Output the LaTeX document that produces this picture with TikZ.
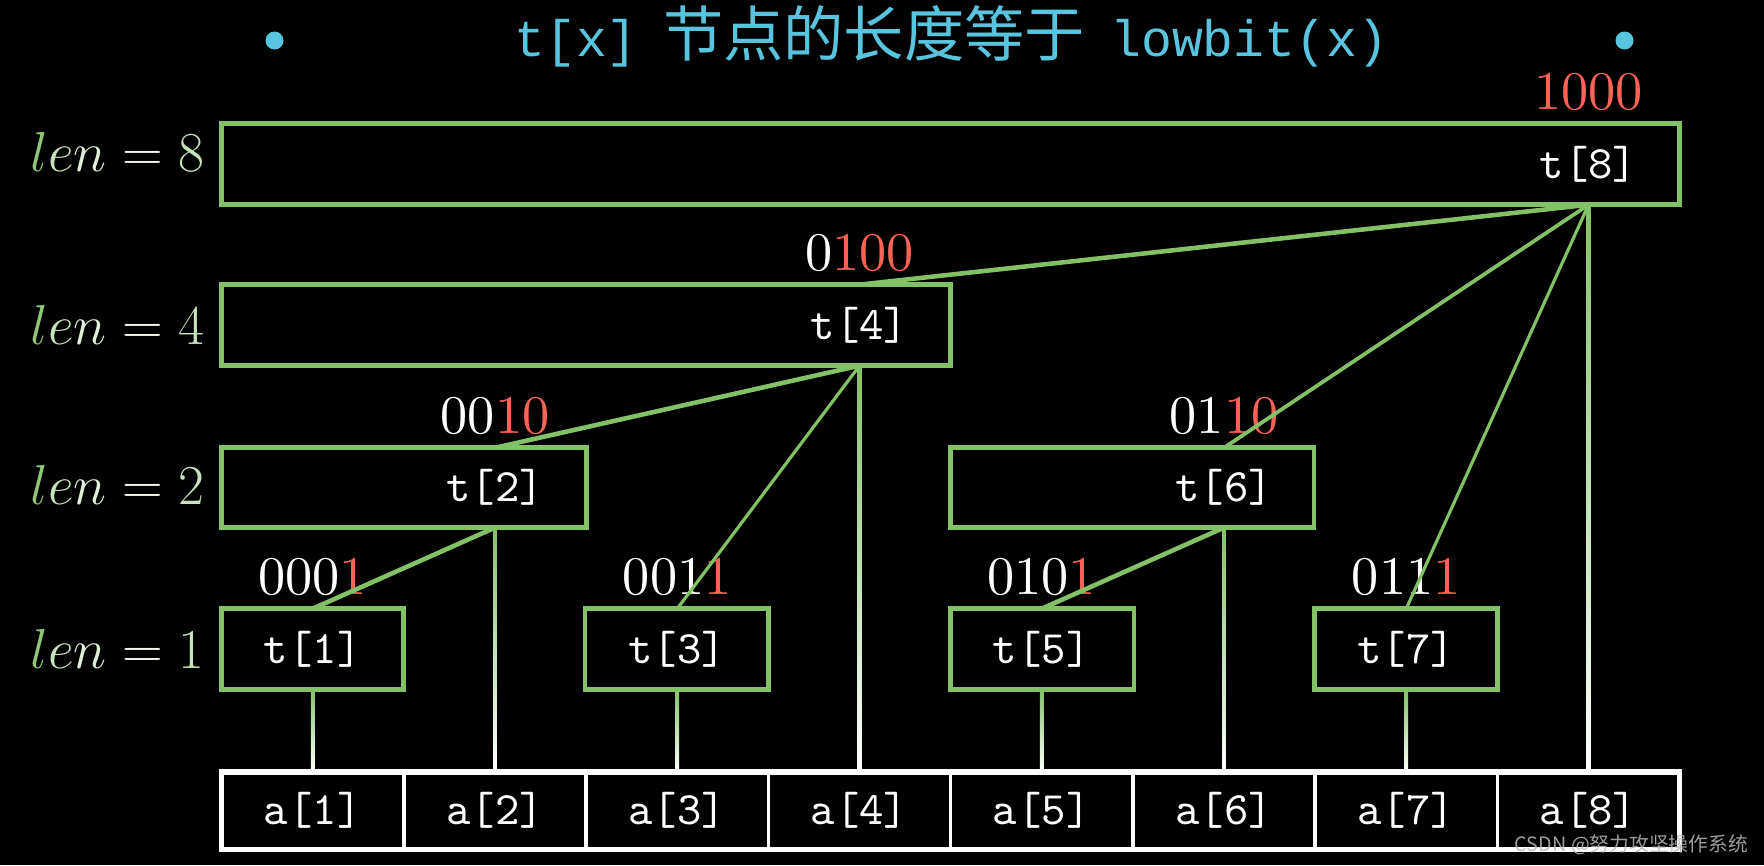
\RequirePackage{fix-cm}
\documentclass[tikz,border=0pt]{standalone}
\usepackage{fontspec}
\newfontfamily\cjk{Noto Sans CJK SC}
\newfontfamily\cour{Liberation Mono}
\newfontfamily\lmten{lmroman10-regular.otf}
\newfontfamily\lmtt{lmmono10-regular.otf}
\usetikzlibrary{calc}
\definecolor{G}{HTML}{83C167}
\definecolor{R}{HTML}{FC6255}
\definecolor{B}{HTML}{58C4DD}
\begin{document}
\begin{tikzpicture}[x=0.02cm,y=-0.02cm,
  tbox/.style={draw=G,line width=2.5pt,inner sep=0pt,outer sep=0pt},
  tlab/.style={text=white,font=\lmtt\fontsize{23.5}{28}\selectfont,inner sep=0pt},
  abox/.style={draw=white,line width=1.8pt,inner sep=0pt,outer sep=0pt,
    minimum width=3.24cm,minimum height=1.38cm,text=white,
    font=\lmtt\fontsize{23.5}{28}\selectfont},
  bin/.style={anchor=base,text=white,inner sep=0pt,font=\lmten\fontsize{27.5}{32}\selectfont},
  lenlab/.style={anchor=base east,inner sep=0pt,font=\fontsize{28.5}{32}\selectfont},
  thickc/.style={G,line width=2.3pt},
  midc/.style={G,line width=1.9pt},
  thinc/.style={G,line width=1.6pt},
  dot/.style={circle,fill=B,inner sep=0pt,minimum size=0.32cm}]
\fill[black] (0,0) rectangle (1568,769);
\useasboundingbox (0,0) rectangle (1568,769);

% title
\node[dot] (d1) at (244,36) {};
\node[dot] (d2) at (1444,36) {};
\node[anchor=base,text=B,inner sep=0pt] (title) at (845.5,50)
  {{\cour\fontsize{26}{30}\selectfont t[x]}\hspace{0.45cm}{\cjk\fontsize{30.5}{34}\selectfont 节点的长度等于}\hspace{0.45cm}{\cour\fontsize{26}{30}\selectfont lowbit(x)}};

% len labels
\newcommand\lenrow[1]{$\textcolor{G!90!white}{l}\textcolor{G!45!white}{e}\textcolor{G!25!white}{n}\mathrel{\textcolor{G!12!white}{=}}\textcolor{G!45!white}{#1}$}
\node[lenlab] (l8) at (182,152) {\lenrow{8}};
\node[lenlab] (l4) at (182,306) {\lenrow{4}};
\node[lenlab] (l2) at (182,448) {\lenrow{2}};
\node[lenlab] (l1) at (182,594) {\lenrow{1}};

% a row
\foreach \k in {1,...,8}{
  \node[abox] (a\k) at ({278+162*(\k-1)},720.5) {a[\k]};
}
\draw[white,line width=2.8pt] (a1.north west) rectangle (a8.south east);

% t labels (positions)
\node[tlab] (t8l) at (1412,146) {t[8]};
\node[tlab] (t4l) at (764,289) {t[4]};
\node[tlab] (t2l) at (440,433.5) {t[2]};
\node[tlab] (t6l) at (1088,433.5) {t[6]};
\node[tlab] (t1l) at (278,577) {t[1]};
\node[tlab] (t3l) at (602,577) {t[3]};
\node[tlab] (t5l) at (926,577) {t[5]};
\node[tlab] (t7l) at (1250,577) {t[7]};

% t boxes
\node[tbox,minimum width=25.92cm,minimum height=1.44cm] (t8) at (845,146) {};
\node[tbox,minimum width=12.96cm,minimum height=1.44cm] (t4) at (521,289) {};
\node[tbox,minimum width=6.48cm,minimum height=1.42cm] (t2) at (359,433.5) {};
\node[tbox,minimum width=6.46cm,minimum height=1.42cm] (t6) at (1006.5,433.5) {};
\node[tbox,minimum width=3.24cm,minimum height=1.44cm] (t1) at (278,577) {};
\node[tbox,minimum width=3.26cm,minimum height=1.44cm] (t3) at (601.5,577) {};
\node[tbox,minimum width=3.26cm,minimum height=1.44cm] (t5) at (926.5,577) {};
\node[tbox,minimum width=3.26cm,minimum height=1.44cm] (t7) at (1249.5,577) {};

% binary labels
\node[bin] (b8) at (1412,97) {\textcolor{R}{1000}};
\node[bin] (b4) at (764,240) {0\textcolor{R}{100}};
\node[bin] (b2) at (440,385) {00\textcolor{R}{10}};
\node[bin] (b6) at (1088,385) {01\textcolor{R}{10}};
\node[bin] (b1) at (278,528) {000\textcolor{R}{1}};
\node[bin] (b3) at (602,528) {001\textcolor{R}{1}};
\node[bin] (b5) at (926,528) {010\textcolor{R}{1}};
\node[bin] (b7) at (1250,528) {011\textcolor{R}{1}};

% vertical connectors (green to white)
\foreach \k in {1,...,8}{
  \shade[top color=G,bottom color=white]
    ($(a\k.north |- t\k.south)+(-0.9pt,0)$) rectangle ($(a\k.north)+(0.9pt,0)$);
}
% diagonal connectors
\draw[thickc] (t8l |- t8.south) -- (t4l |- t4.north);
\draw[midc]  (t8l |- t8.south) -- (t6l |- t6.north);
\draw[thinc] (t8l |- t8.south) -- (t7l |- t7.north);
\draw[thickc] (t4l |- t4.south) -- (t2l |- t2.north);
\draw[thinc] (t4l |- t4.south) -- (t3l |- t3.north);
\draw[thickc] (t2l |- t2.south) -- (t1l |- t1.north);
\draw[thickc] (t6l |- t6.south) -- (t5l |- t5.north);

% redraw boxes on top
\foreach \n in {t8,t4,t2,t6,t1,t3,t5,t7}{
  \draw[G,line width=2.5pt] (\n.north west) rectangle (\n.south east);
}

% watermark
\node[anchor=east,inner sep=0pt,text=white!72!black,opacity=0.85] (wm) at (1554,751)
  {\cjk\fontsize{10}{12}\selectfont CSDN @努力攻坚操作系统};
\end{tikzpicture}
\end{document}
